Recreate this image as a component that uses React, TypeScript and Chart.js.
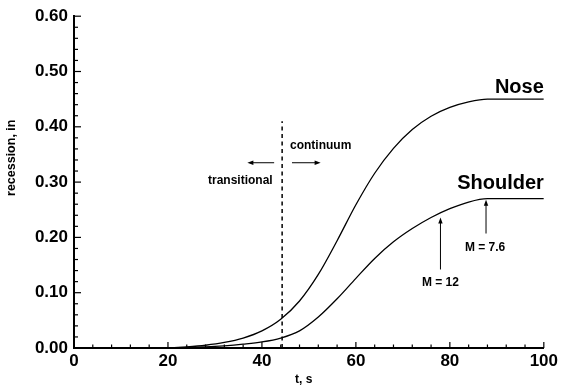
import React, { useEffect, useRef } from "react";
import { Chart, registerables } from "chart.js";

Chart.register(...registerables);

// data
const TIME = [20, 24, 28, 32, 36, 40, 44, 48, 52, 56, 60, 64, 68, 72, 76, 80, 84, 88, 100];
const NOSE = [0, 0.002, 0.005, 0.01, 0.018, 0.031, 0.052, 0.085, 0.133, 0.194, 0.259, 0.316, 0.361, 0.395, 0.419, 0.435, 0.445, 0.45, 0.45];
const SHOULDER = [0, 0.001, 0.002, 0.004, 0.007, 0.011, 0.018, 0.031, 0.056, 0.089, 0.126, 0.162, 0.192, 0.216, 0.236, 0.252, 0.264, 0.27, 0.27];
const DIVIDE_T = 44.3;
const DIVIDE_Y = [0, 0.41];
const X_TICKS = [0, 20, 40, 60, 80, 100];
const Y_TICKS = ["0.00", "0.10", "0.20", "0.30", "0.40", "0.50", "0.60"];

// annotations in data coordinates
const LABELS = [
  { text: "Nose", x: 100, y: 0.461, align: "right", base: "alphabetic", size: 20 },
  { text: "Shoulder", x: 100, y: 0.288, align: "right", base: "alphabetic", size: 20 },
  { text: "continuum", x: 52.5, y: 0.366, align: "center", base: "middle", size: 12 },
  { text: "transitional", x: 35.4, y: 0.303, align: "center", base: "middle", size: 12 },
  { text: "M = 12", x: 78, y: 0.119, align: "center", base: "middle", size: 12 },
  { text: "M = 7.6", x: 87.5, y: 0.182, align: "center", base: "middle", size: 12 },
];
const ARROWS = [
  { x0: 78, y0: 0.142, x1: 78, y1: 0.236 },
  { x0: 87.7, y0: 0.207, x1: 87.7, y1: 0.268 },
  { x0: 42.6, y0: 0.335, x1: 36.9, y1: 0.335 },
  { x0: 46.4, y0: 0.335, x1: 52.5, y1: 0.335 },
];

const FONT = "'Liberation Sans', Arial, Helvetica, sans-serif";

const decorPlugin = {
  id: "decor",
  afterDraw(chart: any) {
    const { ctx, scales } = chart;
    const xs = scales.x;
    const ys = scales.y;
    const area = chart.chartArea;
    ctx.save();
    ctx.strokeStyle = "#000";
    ctx.fillStyle = "#000";
    // inward ticks
    ctx.lineWidth = 1.2;
    for (let v = 0; v <= 100; v += 4) {
      const px = xs.getPixelForValue(v);
      const len = v % 20 === 0 ? 6 : 3.5;
      ctx.beginPath();
      ctx.moveTo(px, area.bottom);
      ctx.lineTo(px, area.bottom - len);
      ctx.stroke();
    }
    for (let i = 0; i <= 30; i++) {
      const v = i * 0.02;
      const py = ys.getPixelForValue(v);
      const len = i % 5 === 0 ? 7 : 4;
      ctx.beginPath();
      ctx.moveTo(area.left, py);
      ctx.lineTo(area.left + len, py);
      ctx.stroke();
    }
    // arrows
    ctx.lineWidth = 1;
    for (const a of ARROWS) {
      const x0 = xs.getPixelForValue(a.x0);
      const y0 = ys.getPixelForValue(a.y0);
      const x1 = xs.getPixelForValue(a.x1);
      const y1 = ys.getPixelForValue(a.y1);
      const ang = Math.atan2(y1 - y0, x1 - x0);
      const hl = 6;
      const hw = 2.2;
      ctx.beginPath();
      ctx.moveTo(x0, y0);
      ctx.lineTo(x1 - Math.cos(ang) * hl * 0.8, y1 - Math.sin(ang) * hl * 0.8);
      ctx.stroke();
      ctx.beginPath();
      ctx.moveTo(x1, y1);
      ctx.lineTo(x1 - Math.cos(ang) * hl - Math.sin(ang) * hw, y1 - Math.sin(ang) * hl + Math.cos(ang) * hw);
      ctx.lineTo(x1 - Math.cos(ang) * hl + Math.sin(ang) * hw, y1 - Math.sin(ang) * hl - Math.cos(ang) * hw);
      ctx.closePath();
      ctx.fill();
    }
    // labels
    for (const l of LABELS) {
      ctx.font = `bold ${l.size}px ${FONT}`;
      ctx.textAlign = l.align;
      ctx.textBaseline = l.base;
      ctx.fillText(l.text, xs.getPixelForValue(l.x), ys.getPixelForValue(l.y));
    }
    // axis titles
    ctx.font = `bold 12px ${FONT}`;
    ctx.textAlign = "center";
    ctx.textBaseline = "middle";
    ctx.fillText("t, s", xs.getPixelForValue(48.9), area.bottom + 32);
    ctx.save();
    ctx.translate(12, ys.getPixelForValue(0.344));
    ctx.rotate(-Math.PI / 2);
    ctx.font = `bold 12.5px ${FONT}`;
    ctx.fillText("recession, in", 0, 0);
    ctx.restore();
    ctx.restore();
  },
};

export default function App() {
  const ref = useRef<HTMLCanvasElement>(null);
  useEffect(() => {
    if (!ref.current) return;
    const chart = new Chart(ref.current, {
      type: "line",
      data: {
        datasets: [
          {
            label: "Nose",
            data: TIME.map((t, i) => ({ x: t, y: NOSE[i] })),
            borderColor: "#000",
            borderWidth: 1.3,
            pointRadius: 0,
            cubicInterpolationMode: "monotone",
          },
          {
            label: "Shoulder",
            data: TIME.map((t, i) => ({ x: t, y: SHOULDER[i] })),
            borderColor: "#000",
            borderWidth: 1.3,
            pointRadius: 0,
            cubicInterpolationMode: "monotone",
          },
          {
            label: "divide",
            data: DIVIDE_Y.map((y) => ({ x: DIVIDE_T, y })),
            borderColor: "#000",
            borderWidth: 1.5,
            borderDash: [4, 3.5],
            pointRadius: 0,
          },
        ],
      },
      options: {
        animation: false,
        responsive: false,
        devicePixelRatio: 1,
        layout: { padding: { left: 0, top: 15, right: 16, bottom: 0 } },
        plugins: { legend: { display: false }, tooltip: { enabled: false } },
        scales: {
          x: {
            type: "linear",
            min: 0,
            max: 100,
            grid: { display: false, drawTicks: false },
            border: { display: true, color: "#000", width: 2 },
            ticks: {
              stepSize: 20,
              color: "#000",
              padding: 3,
              font: { family: FONT, size: 17, weight: "bold" },
              callback: (v: any) => (X_TICKS.includes(v) ? String(v) : ""),
            },
            afterFit: (s: any) => {
              s.height = 42;
            },
          },
          y: {
            type: "linear",
            min: 0,
            max: 0.6,
            grid: { display: false, drawTicks: false },
            border: { display: true, color: "#000", width: 2 },
            ticks: {
              stepSize: 0.1,
              color: "#000",
              padding: 6,
              font: { family: FONT, size: 17, weight: "bold" },
              callback: (v: any) => Y_TICKS[Math.round(Number(v) * 10)] ?? "",
            },
            afterFit: (s: any) => {
              s.width = 74;
            },
          },
        },
      },
      plugins: [decorPlugin],
    });
    return () => chart.destroy();
  }, []);
  return (
    <div style={{ position: "fixed", left: 0, top: 0, width: 561, height: 390, background: "#fff" }}>
      <canvas ref={ref} width={561} height={390} style={{ width: 561, height: 390 }} />
    </div>
  );
}
